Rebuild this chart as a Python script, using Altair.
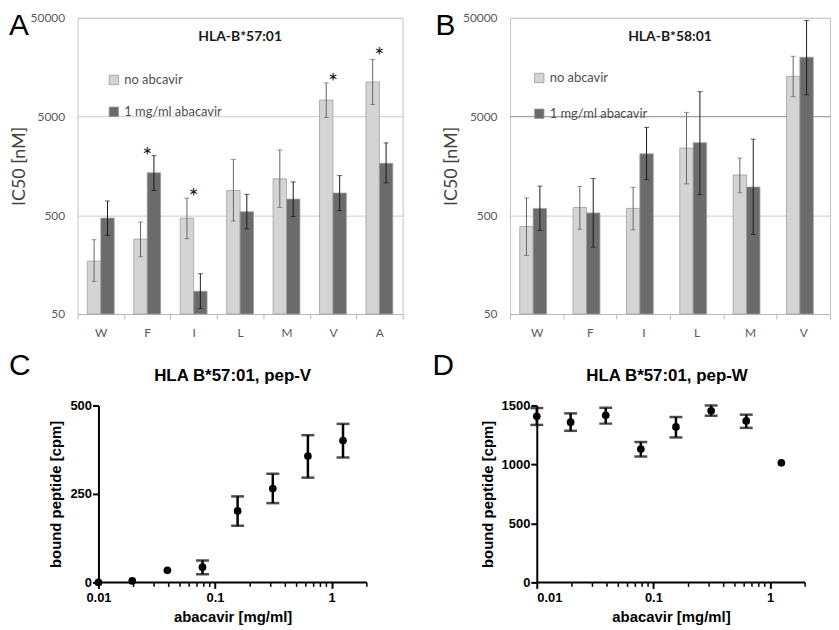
import math
import altair as alt
import pandas as pd

S1 = "no abcavir"
S2 = "1 mg/ml abacavir"
LIGHT = "#d4d4d4"
DARK = "#6b6b6b"

# ---- Panel A: HLA-B*57:01 IC50 ----
cats_a = ["W", "F", "I", "L", "M", "V", "A"]
a_no = [172, 287, 468, 891, 1171, 7350, 11200]
a_no_lo = [107, 190, 289, 437, 601, 4890, 6630]
a_no_hi = [283, 428, 746, 1840, 2297, 10960, 18950]
a_ab = [468, 1348, 85, 542, 729, 840, 1683]
a_ab_lo = [313, 891, 57, 364, 485, 558, 1064]
a_ab_hi = [698, 2010, 128, 815, 1088, 1261, 2705]
a_star_cats = ["F", "I", "V", "A"]
a_star_y = [2280, 884, 12700, 23300]

# ---- Panel B: HLA-B*58:01 IC50 ----
cats_b = ["W", "F", "I", "L", "M", "V"]
b_no = [384, 600, 587, 2395, 1281, 12760]
b_no_lo = [196, 361, 356, 1040, 845, 7930]
b_no_hi = [750, 980, 959, 5510, 1900, 20400]
b_ab = [587, 528, 2095, 2716, 966, 19950]
b_ab_lo = [351, 238, 1146, 808, 319, 8300]
b_ab_hi = [988, 1180, 3880, 8930, 2950, 46900]

# ---- Panels C / D: bound peptide vs abacavir ----
conc = [0.01, 0.0195, 0.039, 0.078, 0.156, 0.3125, 0.625, 1.25]
c_mean = [0, 4, 34, 43, 202, 265, 357, 401]
c_lo = [None, None, None, 23, 160, 224, 296, 353]
c_hi = [None, None, None, 62, 243, 307, 416, 448]
d_mean = [1408, 1358, 1416, 1131, 1318, 1455, 1369, 1014]
d_lo = [1335, 1285, 1346, 1067, 1229, 1413, 1310, None]
d_hi = [1478, 1433, 1480, 1190, 1402, 1500, 1422, None]
minor_ticks = [0.02, 0.03, 0.04, 0.05, 0.06, 0.07, 0.08, 0.09,
               0.2, 0.3, 0.4, 0.5, 0.6, 0.7, 0.8, 0.9, 2]
x_ends = [0.01, 2]

XL_FONT = "Lato"
PR_FONT = "Liberation Sans"


def bar_panel(cats, no, no_lo, no_hi, ab, ab_lo, ab_hi, star_cats, star_y,
              title, letter, W, H, leg_x, leg_y, leg_pad, letter_x, dark_grid):
    rows = []
    for i, c in enumerate(cats):
        rows.append(dict(cat=c, series=S1, value=no[i], lo=no_lo[i], hi=no_hi[i], base=50))
        rows.append(dict(cat=c, series=S2, value=ab[i], lo=ab_lo[i], hi=ab_hi[i], base=50))
    df = pd.DataFrame(rows)
    base = alt.Chart(df)
    x = alt.X("cat:N", sort=cats, scale=alt.Scale(paddingInner=0, paddingOuter=0),
              axis=alt.Axis(title=None, tickBand="extent", labelAngle=0,
                            domainColor="#b8b8b8", tickColor="#b8b8b8", tickSize=5,
                            labelColor="#595959", labelFont=XL_FONT, labelFontSize=12,
                            labelPadding=9, grid=False))
    xo = alt.XOffset("series:N", sort=[S1, S2],
                     scale=alt.Scale(paddingOuter=0.73, paddingInner=0))
    gcol = {"condition": {"test": "datum.value == 5000", "value": "#8a8a8a"},
            "value": "#cccccc"} if dark_grid else "#cccccc"
    yscale = alt.Scale(type="log", domain=[50, 50000])
    y = alt.Y("value:Q", scale=yscale, stack=None,
              axis=alt.Axis(values=[50, 500, 5000, 50000], title="IC50 [nM]",
                            titleFont=XL_FONT, titleFontSize=18, titleFontWeight="normal",
                            titleColor="#404040", titlePadding=2,
                            labelFont=XL_FONT, labelFontSize=12, labelColor="#595959",
                            labelPadding=13, ticks=False, domain=False,
                            grid=True, gridColor=gcol, format="d"))
    bars = base.mark_bar(strokeWidth=0.8, stroke="#a0a0a0").encode(
        x=x, xOffset=xo, y=y, y2="base:Q",
        color=alt.Color("series:N", sort=[S1, S2],
                        scale=alt.Scale(domain=[S1, S2], range=[LIGHT, DARK]),
                        legend=alt.Legend(title=None, orient="none", legendX=leg_x,
                                          legendY=leg_y, symbolType="square",
                                          symbolSize=90, symbolStrokeColor="#9a9a9a",
                                          symbolStrokeWidth=0.8,
                                          labelFont=XL_FONT, labelFontSize=13,
                                          labelColor="#505050", rowPadding=leg_pad,
                                          padding=0, labelOffset=4)),
    )
    layers = [bars]
    for s, col in [(S1, "#666666"), (S2, "#1a1a1a")]:
        sub = base.transform_filter(alt.datum.series == s)
        layers.append(sub.mark_rule(color=col, strokeWidth=1).encode(
            x=x, xOffset=xo, y=alt.Y("lo:Q", scale=yscale), y2="hi:Q"))
        for f in ["lo", "hi"]:
            layers.append(sub.mark_tick(color=col, orient="horizontal", size=5,
                                        thickness=1).encode(
                x=x, xOffset=xo, y=alt.Y(f + ":Q", scale=yscale)))
    if star_cats:
        sdf = pd.DataFrame({"cat": star_cats, "sy": star_y})
        layers.append(alt.Chart(sdf).mark_text(text="*", fontSize=24, font=XL_FONT,
                                               color="#1a1a1a", baseline="middle", dy=7).encode(
            x=x, y=alt.Y("sy:Q", scale=yscale)))
    layers.append(alt.Chart(pd.DataFrame({"t": [title]})).mark_text(
        font=XL_FONT, fontWeight="bold", fontSize=14, color="#1a1a1a",
        align="center", baseline="middle").encode(
        text="t:N", x=alt.value(W / 2), y=alt.value(19)))
    layers.append(alt.Chart(pd.DataFrame({"t": [letter]})).mark_text(
        font=PR_FONT, fontSize=30, color="black", align="left", baseline="top").encode(
        text="t:N", x=alt.value(letter_x), y=alt.value(-7)))
    return alt.layer(*layers).properties(
        width=W, height=H, view=alt.ViewBackground(stroke="#c4c4c4", strokeWidth=1))


def scatter_panel(x, m, lo, hi, title, letter, yvals, ydom, W, H, letter_x, shift, title_x):
    # shift: empty room (px) left of the y axis inside the plot rectangle
    df = pd.DataFrame({"x": x, "m": m, "lo": lo, "hi": hi})
    base = alt.Chart(df)
    decades = math.log10(2 / 0.01)
    xlow = 0.01 * 10 ** (-decades * shift / W)
    PW = W + shift
    xs = alt.Scale(type="log", domain=[xlow, 2], nice=False, zero=False, padding=0)
    ys = alt.Scale(domain=ydom, nice=False, zero=False, padding=0)
    axis_common = dict(tickColor="black", tickWidth=2, tickSize=6, labelFont=PR_FONT,
                       labelFontWeight="bold", labelFontSize=13, labelColor="black",
                       titleFont=PR_FONT, titleFontWeight="bold", titleFontSize=15,
                       titleColor="black", grid=False)
    xenc = alt.X("x:Q", scale=xs,
                 axis=alt.Axis(values=[0.01, 0.1, 1], format="~g", domain=False,
                               title="abacavir [mg/ml]", labelPadding=3,
                               titlePadding=5, titleX=shift + W / 2, **axis_common))
    yenc = alt.Y("m:Q", scale=ys,
                 axis=alt.Axis(values=yvals, title="bound peptide [cpm]", format="d",
                               domainColor="black", domainWidth=2, offset=-shift,
                               labelPadding=1, titlePadding=6, **axis_common))
    pts = base.mark_circle(size=60, color="black", opacity=1).encode(x=xenc, y=yenc)
    rules = base.mark_rule(color="black", strokeWidth=2.5).encode(
        x=alt.X("x:Q", scale=xs), y=alt.Y("lo:Q", scale=ys), y2="hi:Q")
    cap_lo = base.mark_tick(color="black", orient="horizontal", size=13,
                            thickness=2.5).encode(
        x=alt.X("x:Q", scale=xs), y=alt.Y("lo:Q", scale=ys))
    cap_hi = base.mark_tick(color="black", orient="horizontal", size=13,
                            thickness=2.5).encode(
        x=alt.X("x:Q", scale=xs), y=alt.Y("hi:Q", scale=ys))
    xline = alt.Chart(pd.DataFrame({"a": [x_ends[0]], "b": [x_ends[1]]})).mark_rule(
        color="black", strokeWidth=2).encode(
        x=alt.X("a:Q", scale=xs), x2="b:Q", y=alt.value(H))
    minor = alt.Chart(pd.DataFrame({"t": minor_ticks})).mark_rule(
        color="black", strokeWidth=1.5).encode(
        x=alt.X("t:Q", scale=xs), y=alt.value(H), y2=alt.value(H + 4.5))
    ttl = alt.Chart(pd.DataFrame({"t": [title]})).mark_text(
        font=PR_FONT, fontWeight="bold", fontSize=17, color="black",
        align="center", baseline="middle").encode(
        text="t:N", x=alt.value(title_x), y=alt.value(-30))
    let = alt.Chart(pd.DataFrame({"t": [letter]})).mark_text(
        font=PR_FONT, fontSize=30, color="black", align="left", baseline="top").encode(
        text="t:N", x=alt.value(letter_x), y=alt.value(-55))
    return alt.layer(xline, minor, rules, cap_lo, cap_hi, pts, ttl, let).properties(
        width=PW, height=H)


pA = bar_panel(cats_a, a_no, a_no_lo, a_no_hi, a_ab, a_ab_lo, a_ab_hi,
               a_star_cats, a_star_y, "HLA-B*57:01", "A", 327, 298,
               30, 56, 18, -69, False)
pB = bar_panel(cats_b, b_no, b_no_lo, b_no_hi, b_ab, b_ab_lo, b_ab_hi,
               [], [], "HLA-B*58:01", "B", 322, 298,
               23, 54, 22, -75, True)
pC = scatter_panel(conc, c_mean, c_lo, c_hi, "HLA B*57:01, pep-V", "C",
                   [0, 250, 500], [0, 500], 270, 178, -69, 21, 21 + 135)
pD = scatter_panel(conc, d_mean, d_lo, d_hi, "HLA B*57:01, pep-W", "D",
                   [0, 500, 1000, 1500], [0, 1500], 270, 178, -105, 0, 131)

row1 = alt.hconcat(pA, pB, spacing=31).resolve_scale(color="independent").resolve_legend(color="independent")
row2 = alt.hconcat(pC, pD, spacing=65)

chart = alt.vconcat(row1, row2, spacing=11).properties(padding=0).configure_view(
    stroke=None)

chart.save("out.html", embed_options={"renderer": "svg", "actions": False})
